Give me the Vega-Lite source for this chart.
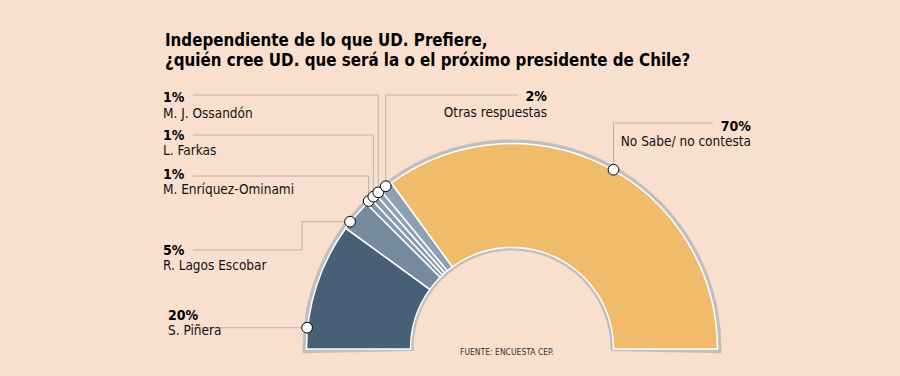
{
  "$schema": "https://vega.github.io/schema/vega-lite/v6.json",
  "width": 776,
  "height": 54,
  "autosize": {"type": "none"},
  "padding": {"left": 124, "top": 322, "right": 0, "bottom": 0},
  "background": "#f9dfcd",
  "config": {"view": {"stroke": null}, "font": "DejaVu Sans Condensed"},
  "title": {
    "text": ["Independiente de lo que UD. Prefiere,", "¿quién cree UD. que será la o el próximo presidente de Chile?"],
    "anchor": "start",
    "frame": "group",
    "dx": 41,
    "offset": 20,
    "fontSize": 16.8,
    "font": "DejaVu Sans Condensed",
    "fontWeight": "bold",
    "color": "#000000",
    "lineHeight": 20.5
  },
  "data": {
    "values": [
      {"candidate": "S. Piñera", "pct": 20, "order": 0},
      {"candidate": "R. Lagos Escobar", "pct": 5, "order": 1},
      {"candidate": "M. Enríquez-Ominami", "pct": 1, "order": 2},
      {"candidate": "L. Farkas", "pct": 1, "order": 3},
      {"candidate": "M. J. Ossandón", "pct": 1, "order": 4},
      {"candidate": "Otras respuestas", "pct": 2, "order": 5},
      {"candidate": "No Sabe/ no contesta", "pct": 70, "order": 6}
    ]
  },
  "layer": [
    {
      "transform": [{"aggregate": [{"op": "sum", "field": "pct", "as": "total"}]}],
      "mark": {"type": "arc", "outerRadius": 209.5, "innerRadius": 98.5, "color": "#bfbfbf"},
      "encoding": {
        "theta": {"field": "total", "type": "quantitative", "scale": {"domain": [0, 100], "range": [-1.5905, 1.5905]}}
      }
    },
    {
      "mark": {"type": "arc", "outerRadius": 205.5, "innerRadius": 101.5, "stroke": "#ffffff", "strokeWidth": 1.5},
      "encoding": {
        "theta": {"field": "pct", "type": "quantitative", "stack": true, "scale": {"domain": [0, 100], "range": [-1.5708, 1.5708]}},
        "order": {"field": "order", "type": "quantitative"},
        "color": {
          "field": "candidate",
          "type": "nominal",
          "legend": null,
          "scale": {
            "domain": ["S. Piñera", "R. Lagos Escobar", "M. Enríquez-Ominami", "L. Farkas", "M. J. Ossandón", "Otras respuestas", "No Sabe/ no contesta"],
            "range": ["#476075", "#778b9e", "#8598ab", "#8a9daf", "#8fa1b3", "#8ea1b3", "#f0bc6b"]
          }
        }
      }
    },
    {
      "transform": [
        {"window": [{"op": "sum", "field": "pct", "as": "cum"}], "sort": [{"field": "order"}], "frame": [null, 0]},
        {"calculate": "datum.cum - datum.pct / 2", "as": "mid"},
        {"calculate": "datum.order == 0 ? 3.3 : datum.order == 1 ? 21.2 : datum.order == 6 ? 66.4 : datum.mid", "as": "anchor"},
        {"calculate": "PI * (1 - datum.anchor / 100)", "as": "ang"},
        {"calculate": "206 * cos(datum.ang)", "as": "mx"},
        {"calculate": "206 * sin(datum.ang)", "as": "my"},
        {"calculate": "[-312, -319, -319, -319, -319, 6, 201][datum.order]", "as": "endX"},
        {"calculate": "datum.order == 0 ? datum.endX : datum.order == 1 ? -210 : datum.mx", "as": "kx"},
        {"calculate": "datum.order == 0 ? datum.my : [0, 99, 173, 214, 254, 254, 226][datum.order]", "as": "lineY"},
        {"calculate": "[-344, -349, -349, -349, -349, 35, 239][datum.order]", "as": "labelX"},
        {"calculate": "[33, 98, 174, 213, 251, 252, 222][datum.order]", "as": "pctY"},
        {"calculate": "[18, 83, 159, 198, 235, 236, 207][datum.order]", "as": "nameY"},
        {"calculate": "datum.pct + '%'", "as": "pctLabel"}
      ],
      "layer": [
        {
          "mark": {"type": "rule", "color": "#bdb2aa", "strokeWidth": 1},
          "encoding": {
            "x": {"field": "mx", "type": "quantitative", "axis": null, "scale": {"domain": [-388, 388], "nice": false, "zero": false}},
            "y": {"field": "my", "type": "quantitative", "axis": null, "scale": {"domain": [-27, 27], "nice": false, "zero": false}},
            "x2": {"field": "kx"},
            "y2": {"field": "my"}
          }
        },
        {
          "mark": {"type": "rule", "color": "#bdb2aa", "strokeWidth": 1},
          "encoding": {
            "x": {"field": "kx", "type": "quantitative", "axis": null},
            "y": {"field": "my", "type": "quantitative", "axis": null},
            "x2": {"field": "kx"},
            "y2": {"field": "lineY"}
          }
        },
        {
          "mark": {"type": "rule", "color": "#bdb2aa", "strokeWidth": 1},
          "encoding": {
            "x": {"field": "kx", "type": "quantitative", "axis": null},
            "y": {"field": "lineY", "type": "quantitative", "axis": null},
            "x2": {"field": "endX"},
            "y2": {"field": "lineY"}
          }
        },
        {
          "mark": {"type": "circle", "size": 115, "color": "#ffffff", "stroke": "#000000", "strokeWidth": 1, "opacity": 1},
          "encoding": {
            "x": {"field": "mx", "type": "quantitative", "axis": null},
            "y": {"field": "my", "type": "quantitative", "axis": null}
          }
        },
        {
          "transform": [{"filter": "datum.order <= 4"}],
          "mark": {"type": "text", "align": "left", "baseline": "middle", "fontSize": 14, "fontWeight": "bold", "color": "#000000"},
          "encoding": {
            "x": {"field": "labelX", "type": "quantitative", "axis": null},
            "y": {"field": "pctY", "type": "quantitative", "axis": null},
            "text": {"field": "pctLabel"}
          }
        },
        {
          "transform": [{"filter": "datum.order <= 4"}],
          "mark": {"type": "text", "align": "left", "baseline": "middle", "fontSize": 13.5, "color": "#111111"},
          "encoding": {
            "x": {"field": "labelX", "type": "quantitative", "axis": null},
            "y": {"field": "nameY", "type": "quantitative", "axis": null},
            "text": {"field": "candidate"}
          }
        },
        {
          "transform": [{"filter": "datum.order >= 5"}],
          "mark": {"type": "text", "align": "right", "baseline": "middle", "fontSize": 14, "fontWeight": "bold", "color": "#000000"},
          "encoding": {
            "x": {"field": "labelX", "type": "quantitative", "axis": null},
            "y": {"field": "pctY", "type": "quantitative", "axis": null},
            "text": {"field": "pctLabel"}
          }
        },
        {
          "transform": [{"filter": "datum.order >= 5"}],
          "mark": {"type": "text", "align": "right", "baseline": "middle", "fontSize": 13.5, "color": "#111111"},
          "encoding": {
            "x": {"field": "labelX", "type": "quantitative", "axis": null},
            "y": {"field": "nameY", "type": "quantitative", "axis": null},
            "text": {"field": "candidate"}
          }
        },
        {
          "transform": [{"filter": "datum.order == 0"}],
          "mark": {"type": "text", "align": "left", "baseline": "middle", "fontSize": 8.5, "color": "#333333", "text": "FUENTE: ENCUESTA CEP."},
          "encoding": {
            "x": {"datum": -52, "type": "quantitative", "axis": null},
            "y": {"datum": -3, "type": "quantitative", "axis": null}
          }
        }
      ]
    }
  ],
  "resolve": {"scale": {"theta": "independent"}}
}
